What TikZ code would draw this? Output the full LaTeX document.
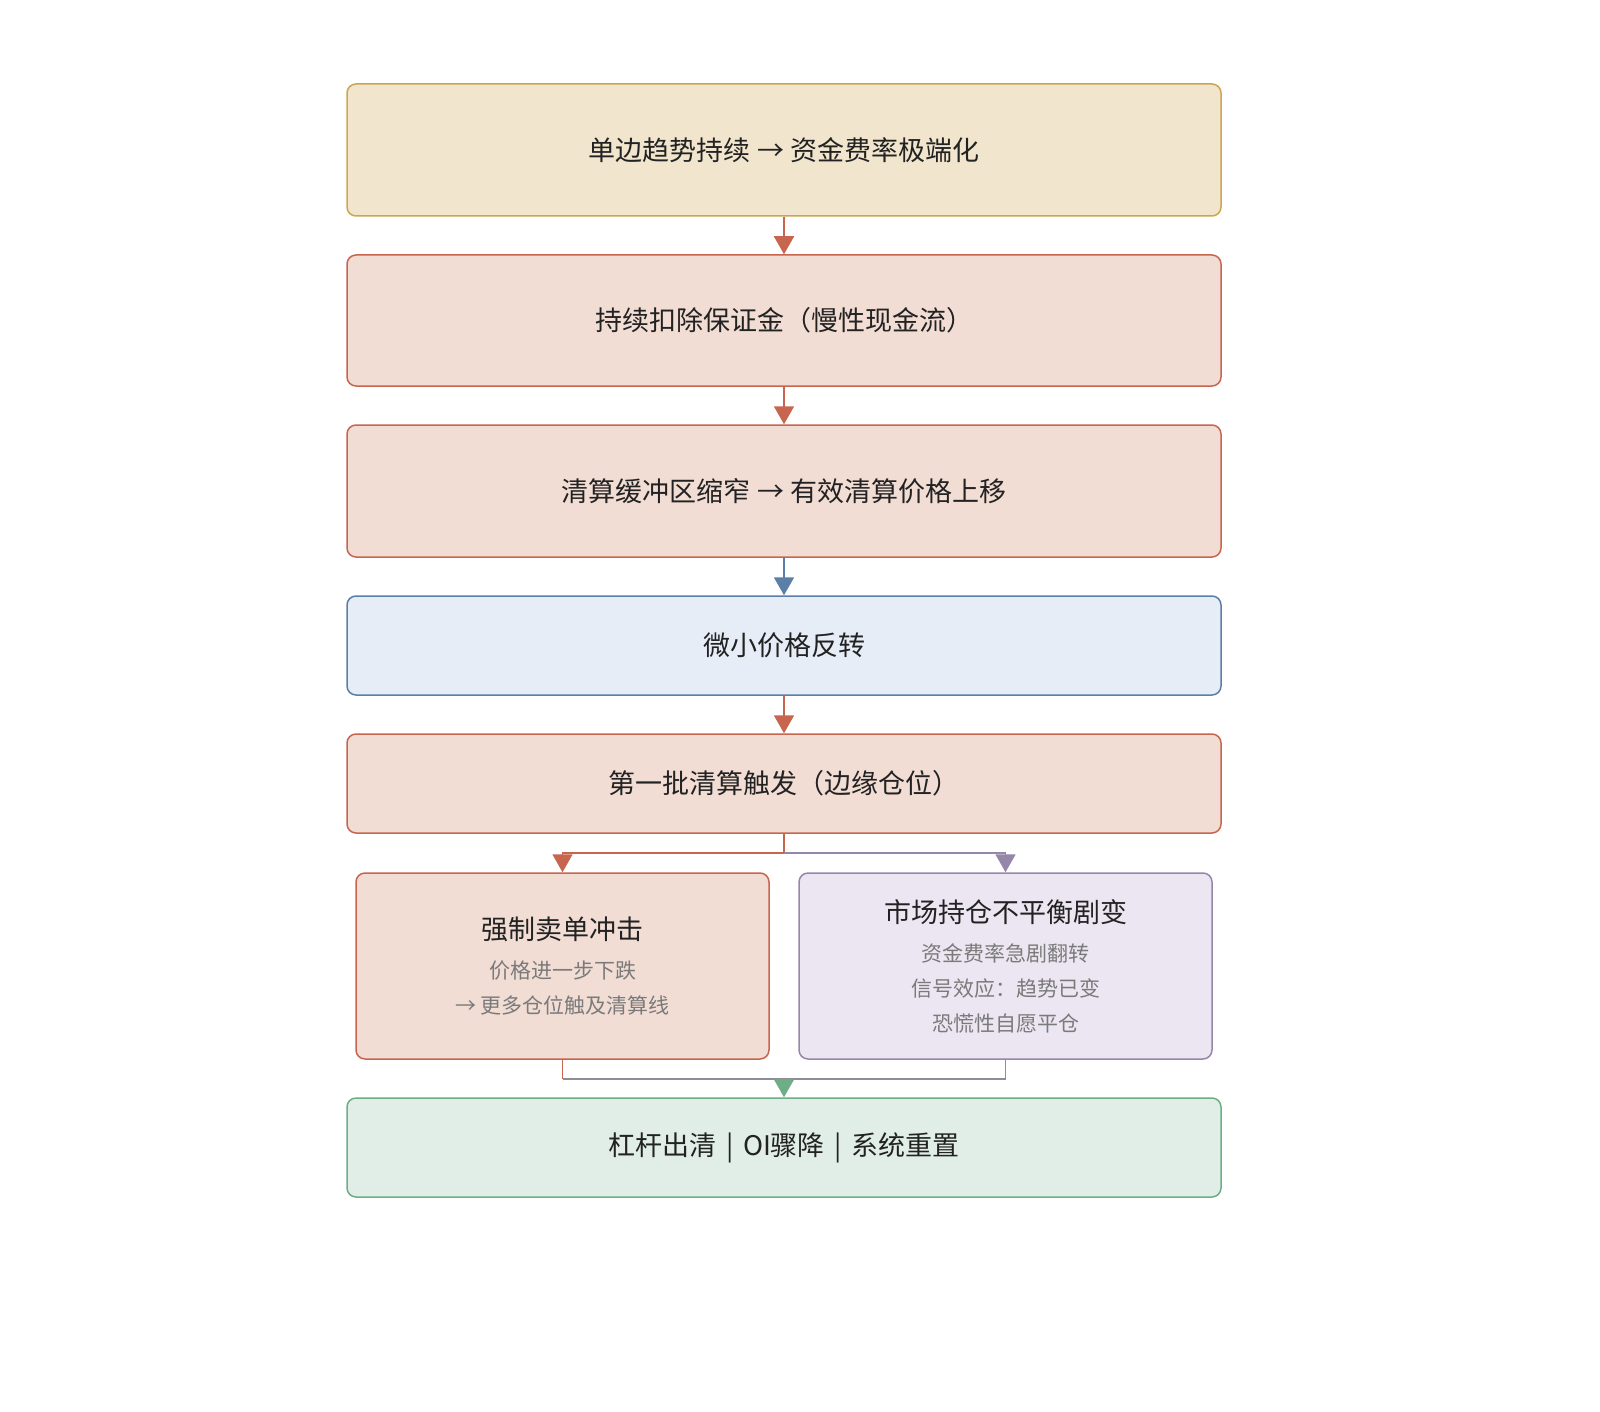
\documentclass[tikz,border=0pt]{standalone}
\usepackage{fontspec}
\setmainfont{Noto Sans CJK SC}
\usetikzlibrary{arrows.meta,positioning}
\definecolor{ylwfill}{HTML}{F1E6CD}
\definecolor{ylwdraw}{HTML}{CDA450}
\definecolor{redfill}{HTML}{F2DDD5}
\definecolor{reddraw}{HTML}{C8654F}
\definecolor{bluefill}{HTML}{E6EDF6}
\definecolor{bluedraw}{HTML}{5B7FA6}
\definecolor{purfill}{HTML}{ECE6F2}
\definecolor{purdraw}{HTML}{9686AA}
\definecolor{grnfill}{HTML}{E1EEE7}
\definecolor{grndraw}{HTML}{6DAE86}
\definecolor{joingray}{HTML}{8E8C94}
\definecolor{maintext}{HTML}{222222}
\definecolor{subtext}{HTML}{7A7A7A}
\tikzset{
  box/.style={rectangle, rounded corners=4.5pt, line width=0.75pt, align=center,
    text=maintext, font=\fontsize{13.5}{17.5}\selectfont, inner sep=0pt},
  widebox/.style={box, minimum width=437pt},
  halfbox/.style={box, minimum width=206.5pt, minimum height=93pt},
  ylwbox/.style={fill=ylwfill, draw=ylwdraw},
  redbox/.style={fill=redfill, draw=reddraw},
  bluebox/.style={fill=bluefill, draw=bluedraw},
  purbox/.style={fill=purfill, draw=purdraw},
  grnbox/.style={fill=grnfill, draw=grndraw},
  conn/.style={line width=0.9pt},
  arr/.style={conn, -{Triangle[width=10pt,length=9pt]}}
}
\newcommand{\subline}[1]{{\color{subtext}\fontsize{10.5}{17.5}\selectfont #1}}
\newcommand{\sepbar}{\hspace{0.35em}|\hspace{0.35em}}
\begin{document}
\begin{tikzpicture}[x=0.5pt,y=-0.5pt]
\useasboundingbox (0,0) rectangle (1600,1412);
\node[widebox, ylwbox, minimum height=66pt] (b1) at (784,150) {单边趋势持续 → 资金费率极端化};
\node[widebox, redbox, minimum height=65.5pt] (b2) at (784,320.5) {持续扣除保证金（慢性现金流）};
\node[widebox, redbox, minimum height=66pt] (b3) at (784,491) {清算缓冲区缩窄 → 有效清算价格上移};
\node[widebox, bluebox, minimum height=49.5pt] (b4) at (784,645.5) {微小价格反转};
\node[widebox, redbox, minimum height=49.5pt] (b5) at (784,783.5) {第一批清算触发（边缘仓位）};
\node[halfbox, redbox] (bl) at (562.5,966) {强制卖单冲击\\[2pt]\subline{价格进一步下跌}\\\subline{→ 更多仓位触及清算线}};
\node[halfbox, purbox] (br) at (1005.5,966) {市场持仓不平衡剧变\\[2pt]\subline{资金费率急剧翻转}\\\subline{信号效应：趋势已变}\\\subline{恐慌性自愿平仓}};
\node[widebox, grnbox, minimum height=49.5pt] (b6) at (784,1147.5) {杠杆出清\sepbar OI骤降\sepbar 系统重置};

\draw[arr, draw=reddraw, fill=reddraw] (b1) -- (b2);
\draw[arr, draw=reddraw, fill=reddraw] (b2) -- (b3);
\draw[arr, draw=bluedraw, fill=bluedraw] (b3) -- (b4);
\draw[arr, draw=reddraw, fill=reddraw] (b4) -- (b5);

\coordinate (split) at (784,853);
\coordinate (splitl) at (562.5,853);
\coordinate (splitr) at (1005.5,853);
\draw[conn, draw=reddraw] (b5.south) -- (split);
\draw[arr, draw=reddraw] (split) -- (splitl) -- (bl.north);
\draw[arr, draw=purdraw] (split) -- (splitr) -- (br.north);

\coordinate (joinl) at (562.5,1079);
\coordinate (joinr) at (1005.5,1079);
\coordinate (join) at (784,1079);
\draw[conn, draw=reddraw] (bl.south) -- (joinl);
\draw[conn, draw=purdraw] (br.south) -- (joinr);
\draw[conn, draw=joingray] (joinl) -- (joinr);
\draw[arr, draw=grndraw] (join) -- (b6.north);
\end{tikzpicture}
\end{document}
